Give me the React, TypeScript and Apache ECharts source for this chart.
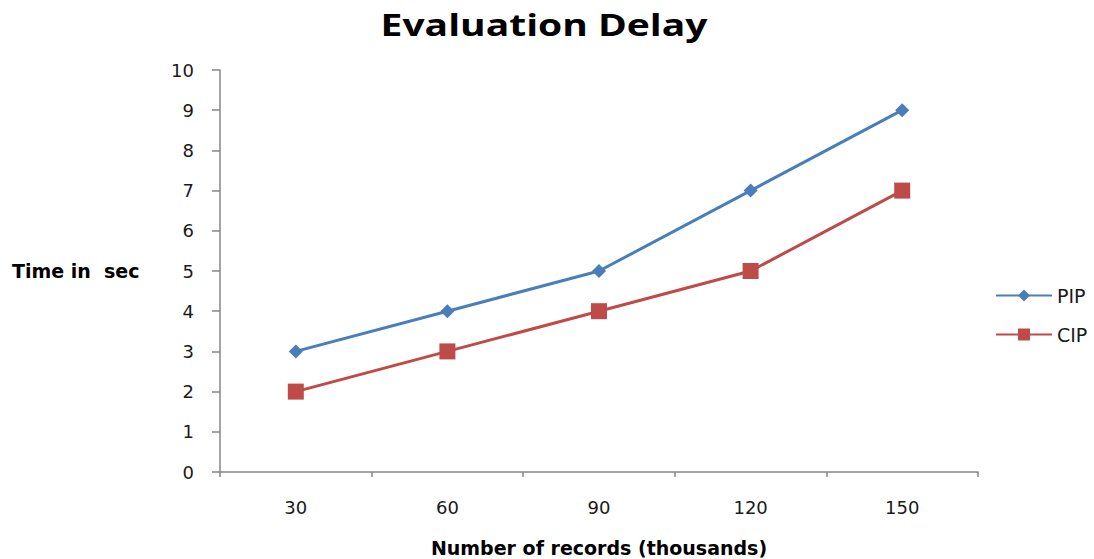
import React, { useEffect, useRef } from "react";
import * as echarts from "echarts";

const categories = ["30", "60", "90", "120", "150"];
const pipValues = [3, 4, 5, 7, 9];
const cipValues = [2, 3, 4, 5, 7];
const titleText = "Evaluation Delay";
const xName = "Number of records (thousands)";
const yName = "Time in  sec";

export default function App() {
  const ref = useRef<HTMLDivElement>(null);
  useEffect(() => {
    const chart = echarts.init(ref.current!, undefined, { renderer: "svg" });
    const axisColor = "#868686";
    const labelFont = { fontFamily: "DejaVu Sans", fontSize: 18, color: "#1a1a1a" };
    chart.setOption({
      animation: false,
      backgroundColor: "#ffffff",
      grid: {
        left: 220,
        right: 116,
        top: 70,
        bottom: 87,
        containLabel: false,
        outerBoundsMode: "none",
      },
      legend: {
        orient: "vertical",
        left: 990,
        top: 281,
        itemWidth: 56,
        itemHeight: 15,
        itemGap: 20,
        textStyle: { fontFamily: "DejaVu Sans", fontSize: 19, color: "#1a1a1a" },
        data: ["PIP", "CIP"],
      },
      xAxis: {
        type: "category",
        data: categories,
        boundaryGap: true,
        name: xName,
        nameLocation: "middle",
        nameGap: 66,
        nameTextStyle: { fontFamily: "DejaVu Sans", fontWeight: "bold", fontSize: 19, color: "#000" },
        axisLine: { lineStyle: { color: axisColor, width: 1.5 } },
        axisTick: { show: true, length: 5, lineStyle: { color: axisColor, width: 1.5 } },
        axisLabel: { ...labelFont, margin: 26 },
        splitLine: { show: false },
      },
      yAxis: {
        type: "value",
        min: 0,
        max: 10,
        interval: 1,
        axisLine: { show: true, lineStyle: { color: axisColor, width: 1.5 } },
        axisTick: { show: true, length: 8, lineStyle: { color: axisColor, width: 1.5 } },
        axisLabel: { ...labelFont, margin: 26 },
        splitLine: { show: false },
      },
      graphic: [
        {
          type: "text",
          x: 544,
          y: 24,
          scaleX: 1.3,
          style: {
            text: titleText,
            fontFamily: "Open Sans",
            fontWeight: "bold",
            fontSize: 30,
            fill: "#000",
            align: "center",
            verticalAlign: "middle",
          },
        },
        {
          type: "text",
          x: 12,
          y: 271,
          style: {
            text: yName,
            fontFamily: "DejaVu Sans",
            fontWeight: "bold",
            fontSize: 19,
            fill: "#000",
            verticalAlign: "middle",
          },
        },
      ],
      series: [
        {
          name: "PIP",
          type: "line",
          data: pipValues,
          symbol: "diamond",
          symbolSize: 14,
          lineStyle: { color: "#4a7ebb", width: 3 },
          itemStyle: { color: "#4a7ebb" },
        },
        {
          name: "CIP",
          type: "line",
          data: cipValues,
          symbol: "rect",
          symbolSize: 16,
          lineStyle: { color: "#be4b48", width: 3 },
          itemStyle: { color: "#be4b48" },
        },
      ],
    });
    return () => chart.dispose();
  }, []);
  return (
    <div
      ref={ref}
      style={{ position: "fixed", left: 0, top: 0, width: 1094, height: 559, background: "#fff" }}
    />
  );
}
